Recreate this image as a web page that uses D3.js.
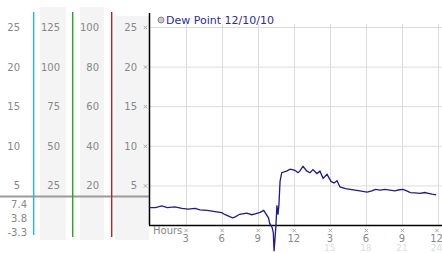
<!DOCTYPE html>
<html>
<head>
<meta charset="utf-8">
<script src="https://cdn.jsdelivr.net/npm/d3@7"></script>
<style>
body{margin:0;background:#fff}
text{font-family:"DejaVu Sans",Verdana,sans-serif}
</style>
</head>
<body>
<script>
// dew point readings, hour of day -> value
var hours = [0,0.5,1.0,1.5,2.1,2.7,3.2,3.8,4.2,4.8,5.45,6.0,6.3,6.9,7.1,7.5,8.1,8.5,8.8,9.2,9.5,
  9.9,10.0,10.2,10.3,10.36,10.45,10.52,10.6,10.69,10.77,10.86,11.0,11.4,11.7,12.1,12.35,12.5,12.77,
  13.1,13.35,13.6,13.93,14.18,14.44,14.77,15.1,15.35,15.6,15.85,16.3,16.7,17.1,17.5,18.1,18.5,18.8,
  19.2,19.6,20.0,20.4,20.8,21.1,21.4,21.7,22.1,22.5,22.9,23.2,23.5,23.85]
var dew = [2.2,2.2,2.4,2.2,2.3,2.1,2.0,2.1,1.9,1.85,1.7,1.55,1.3,0.9,1.0,1.35,1.5,1.3,1.4,1.6,1.85,
  0.9,0.2,-0.3,-1.0,-3.3,-1.5,0,2.5,1.3,2.6,5.5,6.6,6.8,7.05,6.9,6.6,6.8,7.4,
  6.8,6.6,7.0,6.5,6.8,5.9,6.4,5.5,5.3,5.6,4.8,4.6,4.5,4.4,4.3,4.15,4.3,4.5,
  4.4,4.5,4.4,4.3,4.45,4.5,4.3,4.1,4.05,4.0,4.1,4.0,3.9,3.8]
var statLabels = ["7.4","3.8","-3.3"]
var current = 3.6
var yTicks = [5,10,15,20,25]
var col2Labels = ["25","50","75","100","125"]
var col3Labels = ["20","40","60","80","100"]
var hourTicks = [3,6,9,12,15,18,21,24]
var hourLabels = ["3","6","9","12","3","6","9","12"]
var hour2Ticks = [15,18,21,24]
var hour2Labels = ["15","18","21","24"]
var legendText = "Dew Point 12/10/10"

var svg = d3.select("body").append("svg").attr("width",442).attr("height",253)

var x = d3.scaleLinear().domain([0,24]).range([149.5,438])
var y = d3.scaleLinear().domain([0,25]).range([225,27])
function lx(d){return Math.min(x(d),436.5)}

// left panel backgrounds
svg.append("rect").attr("x",40).attr("y",7).attr("width",26).attr("height",233).attr("fill","#f4f4f4")
svg.append("rect").attr("x",80).attr("y",7).attr("width",24).attr("height",233).attr("fill","#f4f4f4")
svg.append("rect").attr("x",115).attr("y",16).attr("width",34).attr("height",224).attr("fill","#f4f4f4")

// plot area
svg.append("rect").attr("x",149).attr("y",13).attr("width",293).attr("height",212).attr("fill","#fff")

var grid = svg.append("g")
grid.selectAll("line.h").data(yTicks).enter().append("line")
  .attr("x1",149).attr("x2",442)
  .attr("y1",function(d){return y(d)+0.5}).attr("y2",function(d){return y(d)+0.5})
  .attr("stroke","#dcdcdc")
grid.selectAll("line.v").data(hourTicks).enter().append("line")
  .attr("y1",24).attr("y2",225)
  .attr("x1",function(d){return Math.round(x(d))+0.5}).attr("x2",function(d){return Math.round(x(d))+0.5})
  .attr("stroke","#dcdcdc")

// current value line
svg.append("line").attr("x1",0).attr("x2",149).attr("y1",y(current)).attr("y2",y(current))
  .attr("stroke","#9a9a9a").attr("stroke-width",2)

// coloured dividers
var dividers = [[33,"#22b8e0",235],[72,"#22aa22",237],[111,"#c02020",237]]
svg.selectAll("rect.div").data(dividers).enter().append("rect")
  .attr("x",function(d){return d[0]}).attr("width",1.4)
  .attr("y",12).attr("height",function(d){return d[2]-12})
  .attr("fill",function(d){return d[1]})

// left labels
function colonne(xr, labels){
  svg.append("g").selectAll("text").data(yTicks).enter().append("text")
    .attr("x",xr).attr("y",function(d){return y(d)+4})
    .attr("text-anchor","end").attr("font-size",10).attr("fill","#888")
    .text(function(d,i){return labels[i]})
}
colonne(20, yTicks.map(String))
colonne(60, col2Labels)
colonne(99, col3Labels)
colonne(137, yTicks.map(String))

var znak = d3.symbol().type(d3.symbolX).size(9)
svg.append("g").selectAll("path").data(yTicks).enter().append("path")
  .attr("transform",function(d){return "translate(145.5,"+(y(d)+0.5)+")"})
  .attr("d",znak).attr("fill","none").attr("stroke","#aaa").attr("stroke-width",1)

svg.append("g").selectAll("text").data(statLabels).enter().append("text")
  .attr("x",27).attr("y",function(d,i){return 208+i*14})
  .attr("text-anchor","end").attr("font-size",10).attr("fill","#888")
  .text(function(d){return d})

// axes
svg.append("line").attr("x1",149.5).attr("x2",149.5).attr("y1",13).attr("y2",225).attr("stroke","#000").attr("stroke-width",1.5)
svg.append("line").attr("x1",149).attr("x2",442).attr("y1",225.5).attr("y2",225.5).attr("stroke","#000").attr("stroke-width",1.5)

var xa = svg.append("g")
xa.append("text").attr("x",153).attr("y",234).attr("font-size",10).attr("fill","#888").text("Hours")
xa.selectAll("path").data(hourTicks).enter().append("path")
  .attr("transform",function(d){return "translate("+(lx(d)+0.5)+",230.5)"})
  .attr("d",znak).attr("fill","none").attr("stroke","#aaa").attr("stroke-width",1)
xa.selectAll("text.l").data(hourTicks).enter().append("text").attr("class","l")
  .attr("x",function(d){return lx(d)}).attr("y",242)
  .attr("text-anchor","middle").attr("font-size",10).attr("fill","#888")
  .text(function(d,i){return hourLabels[i]})
xa.selectAll("text.l2").data(hour2Ticks).enter().append("text").attr("class","l2")
  .attr("x",function(d){return lx(d)}).attr("y",251)
  .attr("text-anchor","middle").attr("font-size",9).attr("fill","#ddd")
  .text(function(d,i){return hour2Labels[i]})

// dew point line
var pts = hours.map(function(h,i){return [h,dew[i]]})
svg.append("path").datum(pts)
  .attr("d",d3.line().x(function(d){return x(d[0])}).y(function(d){return y(d[1])}))
  .attr("fill","none").attr("stroke","#1a1a9a").attr("stroke-width",1.3)

// legend
svg.append("circle").attr("cx",161).attr("cy",20).attr("r",3).attr("fill","#c8c8c8").attr("stroke","#888")
svg.append("text").attr("x",166).attr("y",24).attr("font-size",11).attr("fill","#2a2aa8").text(legendText)
</script>
</body>
</html>
